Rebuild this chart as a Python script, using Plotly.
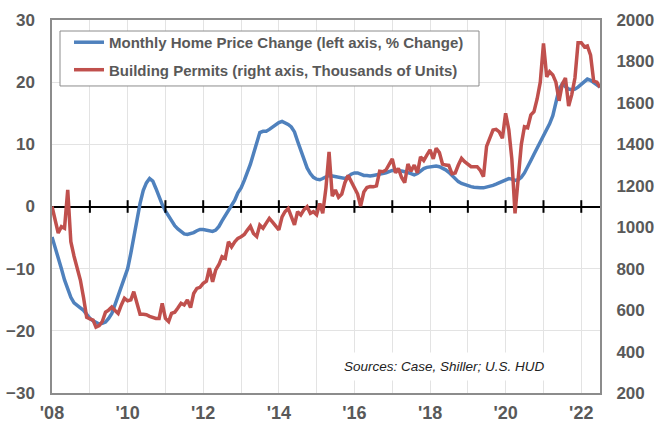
import plotly.graph_objects as go
import pandas as pd

# ---- data (monthly, Jan 2008 - Jul 2022) ----
start_month = "2008-01-01"

home_price_change = [
    -4.9, -6.5, -8.2, -10.0, -11.8, -13.4, -14.6, -15.5, -16.0, -16.3, -16.7, -17.3,   # 2008
    -18.0, -18.4, -18.7, -18.9, -18.8, -18.6, -18.0, -17.2, -15.8, -14.3, -12.8, -11.5,  # 2009
    -10.0, -7.5, -4.8, -2.2, 0.5, 2.6, 3.8, 4.5, 4.1, 2.9, 1.5, 0.3,                # 2010
    -0.7, -1.6, -2.4, -3.1, -3.6, -4.1, -4.4, -4.5, -4.4, -4.2, -3.9, -3.7,          # 2011
    -3.7, -3.8, -3.9, -4.0, -3.8, -3.2, -2.3, -1.5, -0.5, 0.3, 1.0, 2.2,             # 2012
    3.0, 4.2, 5.4, 6.8, 8.5, 10.3, 11.9, 12.1, 12.1, 12.4, 12.8, 13.2,               # 2013
    13.5, 13.7, 13.5, 13.2, 12.8, 12.0, 10.5, 9.0, 7.5, 6.2, 5.3, 4.7,               # 2014
    4.4, 4.3, 4.5, 4.8, 5.0, 4.9, 4.8, 4.7, 4.5, 4.5, 4.8, 5.2,                      # 2015
    5.4, 5.4, 5.2, 5.0, 5.0, 4.9, 5.0, 5.1, 5.1, 5.2, 5.4, 5.6,                      # 2016
    5.8, 5.8, 5.8, 5.7, 5.6, 5.5, 5.3, 5.1, 5.3, 5.7, 6.1, 6.3,                      # 2017
    6.4, 6.5, 6.5, 6.4, 6.2, 5.9, 5.5, 5.0, 4.5, 4.0, 3.7, 3.5,                      # 2018
    3.3, 3.2, 3.1, 3.0, 3.0, 3.0, 3.1, 3.2, 3.4, 3.6, 3.8, 4.0,                      # 2019
    4.2, 4.5, 4.4, 4.2, 4.3, 4.7, 5.4, 6.3, 7.4, 8.4, 9.4, 10.3,                     # 2020
    11.2, 12.2, 13.3, 14.6, 16.6, 18.9, 19.7, 19.3, 18.9, 18.8, 18.9, 19.2,          # 2021
    19.7, 20.2, 20.5, 20.3, 19.9, 19.5, 19.2,                                        # 2022
]

building_permits = [
    1100, 1030, 972, 1003, 995, 1180, 930, 860, 795, 745, 660, 565,        # 2008
    558, 552, 518, 525, 545, 590, 600, 615, 598, 584, 625, 657,            # 2009
    645, 650, 689, 640, 580, 580, 578, 570, 565, 560, 560, 633,            # 2010
    560, 545, 584, 590, 610, 633, 625, 649, 612, 680, 705, 710,            # 2011
    729, 740, 802, 737, 794, 820, 858, 850, 930, 905, 930, 946,            # 2012
    954, 965, 985, 1005, 970, 955, 1010, 995, 1020, 1043, 1025, 1005,      # 2013
    987, 1050, 1075, 1091, 1045, 1011, 1075, 1059, 1085, 1099, 1067, 1075, # 2014
    1060, 1115, 1067, 1190, 1364, 1150, 1180, 1145, 1160, 1215, 1250, 1220,# 2015
    1190, 1160, 1102, 1170, 1192, 1196, 1195, 1200, 1270, 1268, 1276, 1300,# 2016
    1330, 1262, 1284, 1240, 1215, 1305, 1270, 1300, 1262, 1340, 1322, 1348,# 2017
    1373, 1330, 1381, 1360, 1305, 1300, 1298, 1258, 1262, 1300, 1332, 1316,# 2018
    1305, 1292, 1292, 1292, 1275, 1244, 1390, 1425, 1469, 1472, 1460, 1429,# 2019
    1550, 1470, 1330, 1067, 1230, 1400, 1485, 1480, 1542, 1558, 1620, 1700,# 2020
    1887, 1726, 1751, 1735, 1700, 1610, 1690, 1720, 1585, 1640, 1720, 1890,# 2021
    1890, 1870, 1875, 1830, 1705, 1700, 1675,                              # 2022
]

year_ticks = [f"{y}-01-01" for y in range(2008, 2023)]
year_labels = ["'08", "", "'10", "", "'12", "", "'14", "", "'16", "", "'18", "", "'20", "", "'22"]

left_ticks = [-30, -20, -10, 0, 10, 20, 30]
right_ticks = [200, 400, 600, 800, 1000, 1200, 1400, 1600, 1800, 2000]

series_names = ["Monthly Home Price Change (left axis, % Change)",
                "Building Permits (right axis, Thousands of Units)"]
source_text = "Sources: Case, Shiller; U.S. HUD"

dates = pd.date_range(start_month, periods=len(home_price_change), freq="MS")

BLUE = "#4F81BD"
RED = "#C0504D"
TXT = "#595959"
FONT = "Liberation Sans"

fig = go.Figure()
fig.add_trace(go.Scatter(x=dates, y=home_price_change, name=series_names[0], mode="lines",
                         line=dict(color=BLUE, width=3.5), legendgroup="a", yaxis="y"))
fig.add_trace(go.Scatter(x=dates, y=building_permits, name=series_names[1], mode="lines",
                         line=dict(color=RED, width=3.5), legendgroup="b", yaxis="y2"))
# tick marks on the zero line
fig.add_trace(go.Scatter(x=year_ticks[1:], y=[0] * (len(year_ticks) - 1), mode="markers",
                         marker=dict(symbol="line-ns", size=9, line=dict(width=2, color="black")),
                         showlegend=False, hoverinfo="skip", yaxis="y"))

fig.update_layout(
    width=668, height=424,
    margin=dict(l=52, r=68, t=20, b=31),
    paper_bgcolor="white", plot_bgcolor="white",
    font=dict(family=FONT, color=TXT),
    xaxis=dict(type="date", range=["2008-01-01", "2022-07-01"], automargin=False,
               tickmode="array", tickvals=year_ticks, ticktext=year_labels,
               showgrid=True, gridcolor="#E3E3E3", gridwidth=1.3,
               showline=True, linecolor="#8C8C8C", linewidth=1.5, mirror=True,
               ticks="outside", ticklen=3, tickcolor="rgba(0,0,0,0)",
               tickfont=dict(size=18, weight="bold", color=TXT)),
    yaxis=dict(range=[-30, 30], tickmode="array", tickvals=left_ticks, automargin=False,
               showgrid=True, gridcolor="#E3E3E3", gridwidth=1.3,
               zeroline=True, zerolinecolor="black", zerolinewidth=2,
               showline=True, linecolor="#8C8C8C", linewidth=1.5, mirror=True,
               ticks="outside", ticklen=12, tickcolor="rgba(0,0,0,0)",
               tickfont=dict(size=17, weight="bold", color=TXT)),
    yaxis2=dict(range=[200, 2000], overlaying="y", side="right", tickmode="array",
                tickvals=right_ticks, showgrid=False, zeroline=False, showline=False,
                automargin=False,
                ticks="outside", ticklen=12, tickcolor="rgba(0,0,0,0)",
                tickfont=dict(size=17, weight="bold", color=TXT)),
    legend=dict(x=0.031, y=0.984, xanchor="left", yanchor="top",
                bgcolor="rgba(0,0,0,0)", borderwidth=0,
                font=dict(size=15, weight="bold", color=TXT),
                traceorder="grouped", tracegroupgap=5, itemwidth=30),
    showlegend=True,
    hovermode=False,
    shapes=[dict(type="rect", xref="paper", yref="paper",
                 x0=0.0146, x1=0.7792, y0=0.8231, y1=0.9705,
                 line=dict(color="#8C8C8C", width=1), fillcolor="white", layer="above")],
    annotations=[dict(text=source_text, xref="paper", yref="paper", x=0.717, y=0.07,
                      xanchor="center", yanchor="middle", showarrow=False,
                      font=dict(size=13.5, style="italic", color="#222222"),
                      bgcolor="white", borderpad=6)],
)

fig.write_html("out.html", config={"displayModeBar": False},
               post_script="document.body.style.margin='0px';")
